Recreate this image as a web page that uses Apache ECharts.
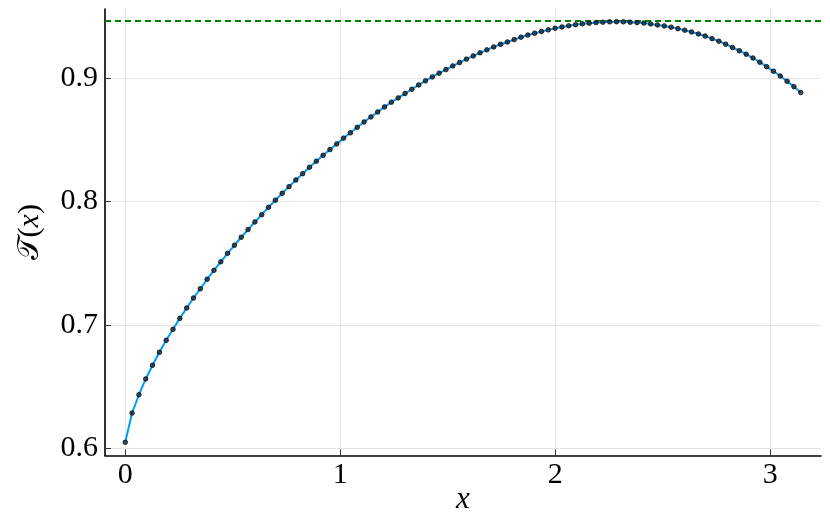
<!DOCTYPE html>
<html>
<head>
<meta charset="utf-8">
<script src="https://cdn.jsdelivr.net/npm/echarts@6/dist/echarts.min.js"></script>
<style>html,body{margin:0;padding:0;background:#fff}#c{width:830px;height:524px}</style>
</head>
<body>
<div id="c"></div>
<script>
const xValues = [0,0.0317,0.0635,0.0952,0.1269,0.1587,0.1904,0.2221,0.2539,0.2856,
0.3173,0.3491,0.3808,0.4125,0.4443,0.4760,0.5077,0.5395,0.5712,0.6029,
0.6347,0.6664,0.6981,0.7299,0.7616,0.7933,0.8251,0.8568,0.8885,0.9203,
0.9520,0.9837,1.0155,1.0472,1.0789,1.1107,1.1424,1.1741,1.2059,1.2376,
1.2693,1.3011,1.3328,1.3645,1.3963,1.4280,1.4597,1.4915,1.5232,1.5549,
1.5867,1.6184,1.6501,1.6819,1.7136,1.7453,1.7771,1.8088,1.8405,1.8723,
1.9040,1.9357,1.9675,1.9992,2.0309,2.0627,2.0944,2.1261,2.1579,2.1896,
2.2213,2.2531,2.2848,2.3165,2.3483,2.3800,2.4117,2.4435,2.4752,2.5069,
2.5387,2.5704,2.6021,2.6339,2.6656,2.6973,2.7291,2.7608,2.7925,2.8243,
2.8560,2.8877,2.9195,2.9512,2.9829,3.0147,3.0464,3.0781,3.1099,3.1416];
const tValues = [0.6049,0.6286,0.6434,0.6562,0.6673,0.6778,0.6875,0.6964,0.7053,0.7137,
0.7218,0.7293,0.7370,0.7442,0.7511,0.7580,0.7645,0.7710,0.7772,0.7834,
0.7893,0.7953,0.8010,0.8066,0.8120,0.8174,0.8225,0.8277,0.8326,0.8374,
0.8420,0.8466,0.8513,0.8556,0.8601,0.8644,0.8685,0.8725,0.8766,0.8804,
0.8839,0.8874,0.8909,0.8944,0.8977,0.9009,0.9039,0.9068,0.9098,0.9125,
0.9153,0.9179,0.9204,0.9228,0.9252,0.9273,0.9292,0.9311,0.9331,0.9348,
0.9363,0.9377,0.9390,0.9403,0.9414,0.9423,0.9432,0.9439,0.9444,0.9449,
0.9452,0.9455,0.9456,0.9455,0.9452,0.9449,0.9445,0.9438,0.9430,0.9422,
0.9412,0.9400,0.9387,0.9373,0.9357,0.9340,0.9319,0.9298,0.9274,0.9247,
0.9221,0.9193,0.9162,0.9128,0.9092,0.9055,0.9016,0.8974,0.8930,0.8882];
const hlineValue = [0.9461];
const xTicks = [0, 1, 2, 3];
const yTicks = [0.6, 0.7, 0.8, 0.9];

const points = xValues.map((x, i) => [x, tValues[i]]);
const font = '"Liberation Serif", "DejaVu Serif", serif';
const chart = echarts.init(document.getElementById('c'), null, {renderer: 'canvas'});
chart.setOption({
  animation: false,
  backgroundColor: '#ffffff',
  grid: {left: 105, right: 9, top: 9, bottom: 68.5, containLabel: false, outerBoundsMode: 'none'},
  xAxis: {
    type: 'value', min: -0.0942, max: 3.2358,
    name: 'x', nameLocation: 'middle', nameGap: 29, nameMoveOverlap: false,
    nameTextStyle: {fontFamily: font, fontStyle: 'italic', fontSize: 31, color: '#000'},
    axisLine: {show: true, onZero: false, lineStyle: {color: '#000', width: 1.6}},
    axisTick: {show: true, inside: true, length: 6, customValues: xTicks, lineStyle: {color: '#333', width: 1}},
    axisLabel: {customValues: xTicks, fontFamily: font, fontSize: 30, color: '#000', margin: 5,
      formatter: v => String(v)},
    splitLine: {show: true, lineStyle: {color: '#e5e5e5', width: 1}}
  },
  yAxis: {
    type: 'value', min: 0.5942, max: 0.9559,
    name: '{t|𝒯}{p|(}{v|x}{p|)}', nameLocation: 'middle', nameGap: 60, nameRotate: 90, nameMoveOverlap: false,
    nameTextStyle: {
      fontFamily: font, fontSize: 30, color: '#000',
      rich: {
        t: {fontFamily: font, fontSize: 30, color: '#000'},
        p: {fontFamily: font, fontSize: 30, color: '#000'},
        v: {fontFamily: font, fontSize: 30, fontStyle: 'italic', color: '#000'}
      }
    },
    axisLine: {show: true, onZero: false, lineStyle: {color: '#000', width: 1.6}},
    axisTick: {show: true, inside: true, length: 6, customValues: yTicks, lineStyle: {color: '#333', width: 1}},
    axisLabel: {customValues: yTicks, fontFamily: font, fontSize: 30, color: '#000', margin: 7,
      formatter: v => v.toFixed(1)},
    splitLine: {show: true, lineStyle: {color: '#e5e5e5', width: 1}}
  },
  series: [
    {
      type: 'line', data: points, showSymbol: false, smooth: false,
      lineStyle: {color: '#009af9', width: 2}, z: 2,
      markLine: {
        silent: true, symbol: 'none', label: {show: false}, precision: 4,
        lineStyle: {color: '#008000', type: [6, 4], width: 2},
        data: [{yAxis: hlineValue[0]}], z: 1
      }
    },
    {
      type: 'scatter', data: points, symbol: 'circle', symbolSize: 4.5,
      itemStyle: {color: '#1c2b36', borderColor: '#000', borderWidth: 1}, z: 3
    }
  ]
});
</script>
</body>
</html>
